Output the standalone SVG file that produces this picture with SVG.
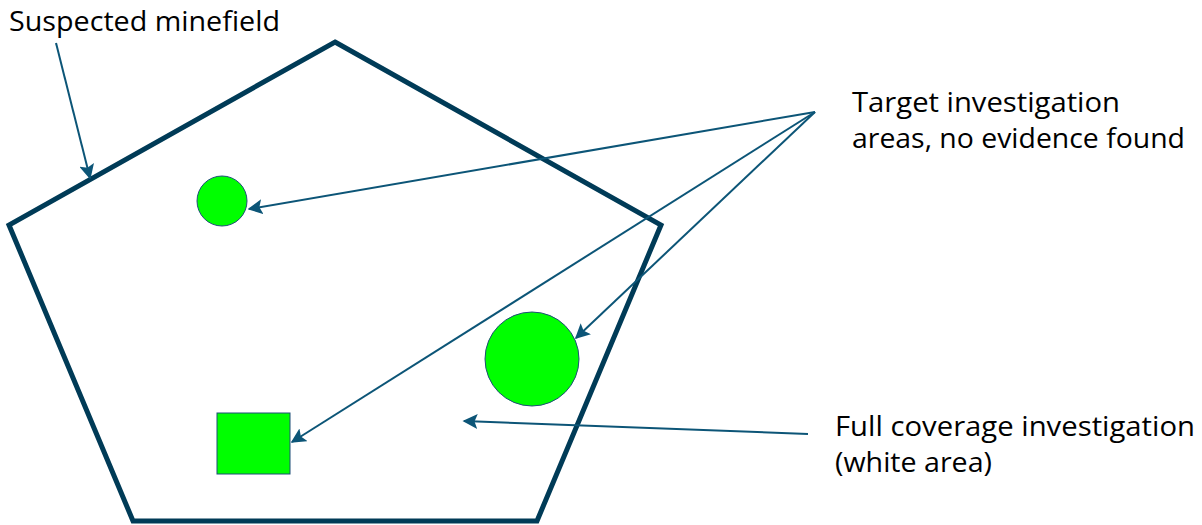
<svg xmlns="http://www.w3.org/2000/svg" width="1202" height="525" viewBox="0 0 1202 525">
<defs>
<style>
.lbl{font-family:"Open Sans","Liberation Sans",sans-serif;font-size:28px;fill:#000}
.conn{stroke:#0C5577;stroke-width:2;fill:none;marker-end:url(#ah)}
.area{fill:#00FF00;stroke:#1F4E79;stroke-width:1}
</style>
<marker id="ah" viewBox="0 0 10 10" refX="9" refY="5" markerWidth="7.5" markerHeight="7.5" orient="auto" markerUnits="strokeWidth">
<path d="M0,0 L10,5 L0,10 L2,5 Z" fill="#0C5577"/>
</marker>
</defs>
<rect width="1202" height="525" fill="#fff"/>
<g id="minefield">
<polygon points="335,42 661,225 537,521 133,521 9,225" fill="#fff" stroke="#003B57" stroke-width="5" stroke-linejoin="miter"/>
</g>
<g id="small-circle"><circle cx="222" cy="201" r="25" class="area"/></g>
<g id="big-circle"><circle cx="532" cy="359" r="47" class="area"/></g>
<g id="square"><rect x="217" y="413" width="73" height="61" class="area"/></g>
<g id="label-minefield"><text class="lbl" x="9" y="31" textLength="271" lengthAdjust="spacingAndGlyphs">Suspected minefield</text></g>
<g id="label-target"><text class="lbl" x="852" y="112" textLength="268" lengthAdjust="spacingAndGlyphs">Target investigation</text><text class="lbl" x="852" y="148" textLength="333" lengthAdjust="spacingAndGlyphs">areas, no evidence found</text></g>
<g id="label-full"><text class="lbl" x="835" y="436" textLength="360" lengthAdjust="spacingAndGlyphs">Full coverage investigation</text><text class="lbl" x="835" y="472" textLength="157" lengthAdjust="spacingAndGlyphs">(white area)</text></g>
<g id="connectors">
<line class="conn" x1="56" y1="43" x2="90" y2="178"/>
<line class="conn" x1="815" y1="112" x2="249" y2="209"/>
<line class="conn" x1="815" y1="112" x2="576" y2="338"/>
<line class="conn" x1="815" y1="112" x2="292" y2="442"/>
<line class="conn" x1="808" y1="434" x2="464" y2="421"/>
</g>
</svg>
